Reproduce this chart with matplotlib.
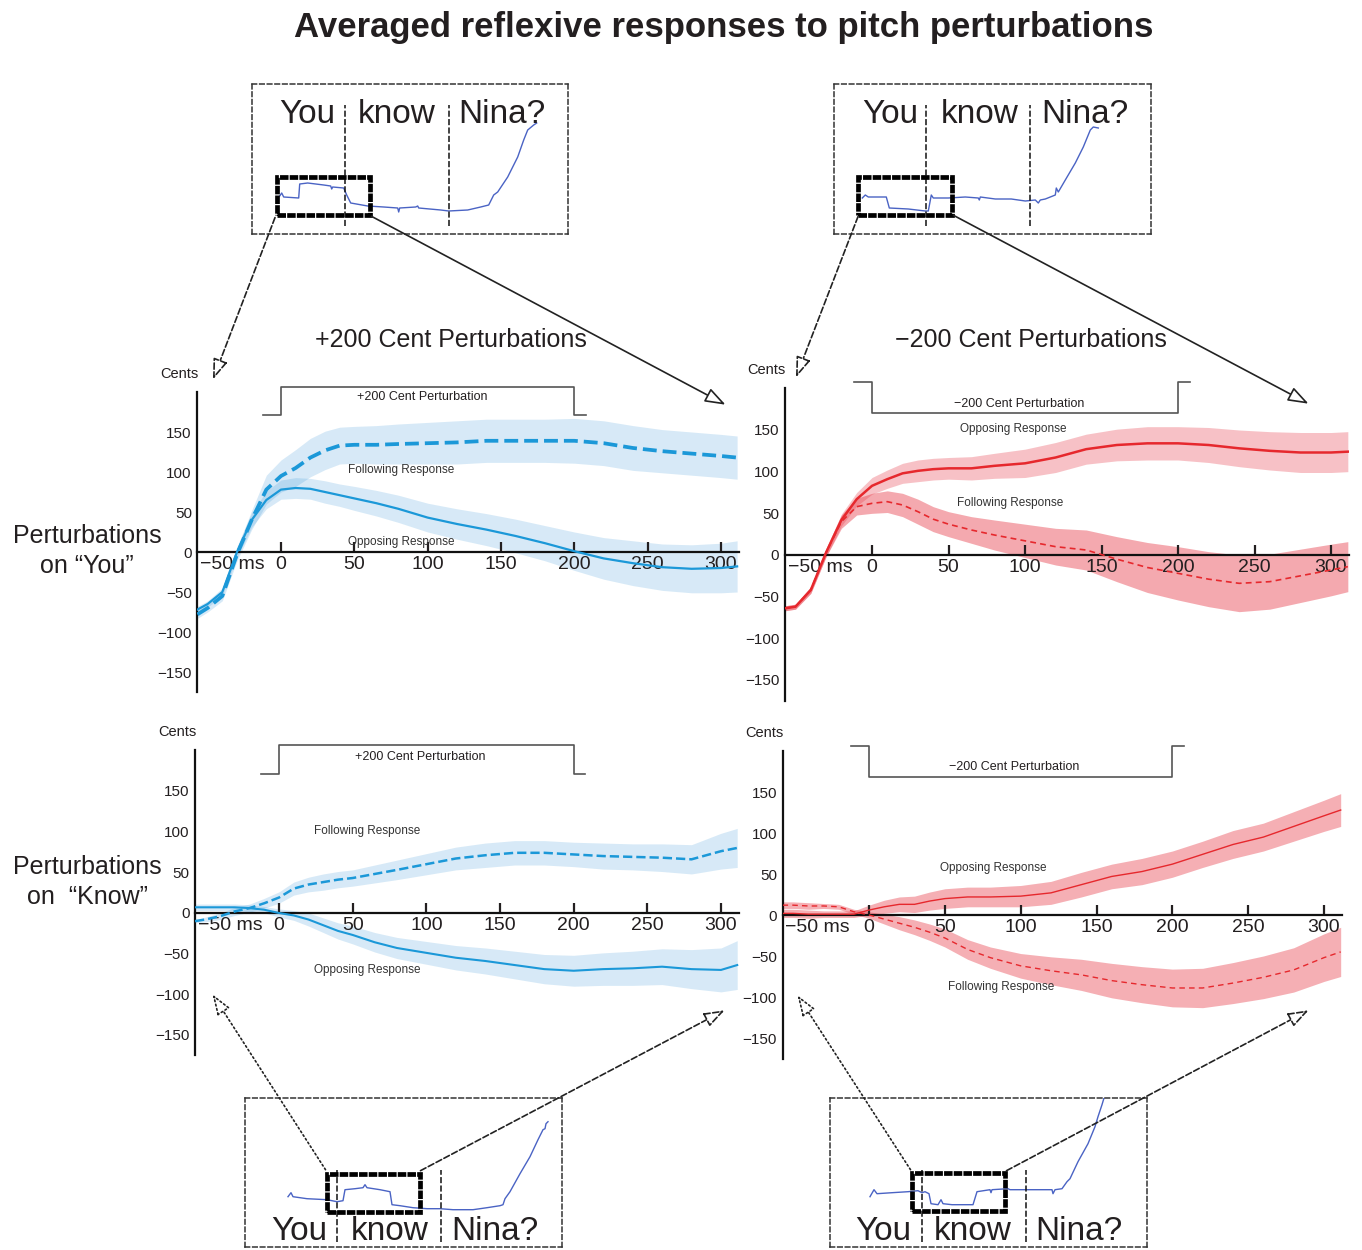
import numpy as np
import matplotlib
matplotlib.use("Agg")
import matplotlib.pyplot as plt
from matplotlib.patches import Rectangle, FancyArrowPatch

plt.rcParams["font.family"] = ["Liberation Sans", "DejaVu Sans"]
NARROW = ["Liberation Sans Narrow", "Liberation Sans", "DejaVu Sans"]
INK = "#231f20"

# time from perturbation onset (ms)
t = np.array([-57, -50, -40, -30, -20, -10, 0, 10, 20, 30, 40, 50, 65, 80,
              100, 120, 140, 160, 180, 200, 220, 240, 260, 280, 300, 311])

# +200 cents on "You"
up_you_follow = [-78, -70, -55, -3, 40, 78, 95, 105, 118, 127, 133, 134, 134, 135,
                 136, 137, 139, 139, 139, 139, 136, 130, 126, 123, 120, 118]
up_you_follow_sem = [5, 5, 6, 8, 12, 18, 20, 23, 24, 24, 23, 23, 24, 25,
                     26, 27, 27, 27, 27, 28, 28, 28, 27, 27, 27, 27]
up_you_oppose = [-72, -65, -50, 0, 40, 65, 78, 80, 79, 75, 71, 67, 61, 54,
                 43, 35, 28, 20, 11, 1, -8, -14, -19, -21, -20, -18]
up_you_oppose_sem = [4, 4, 5, 7, 9, 11, 12, 13, 13, 14, 14, 15, 16, 17,
                     18, 19, 20, 21, 22, 24, 26, 28, 29, 30, 31, 32]

# -200 cents on "You"
dn_you_oppose = [-64, -62, -42, 3, 42, 67, 83, 91, 98, 101, 103, 104, 104, 107,
                 110, 117, 127, 132, 134, 134, 132, 128, 125, 123, 123, 124]
dn_you_oppose_sem = [3, 3, 4, 5, 7, 8, 10, 11, 12, 13, 13, 13, 14, 15,
                     17, 18, 18, 19, 20, 20, 21, 22, 23, 24, 24, 24]
dn_you_follow = [-64, -62, -42, 3, 40, 58, 62, 64, 60, 52, 43, 37, 30, 24,
                 17, 10, 6, -5, -15, -22, -29, -34, -32, -25, -18, -14]
dn_you_follow_sem = [3, 3, 4, 5, 8, 10, 12, 13, 14, 15, 15, 15, 16, 18,
                     20, 22, 24, 27, 30, 32, 33, 34, 33, 32, 31, 30]

# +200 cents on "Know"
up_know_follow = [-10, -8, -4, 2, 6, 12, 19, 30, 35, 38, 41, 43, 48, 53,
                  60, 67, 71, 74, 74, 72, 70, 69, 68, 66, 76, 80]
up_know_follow_sem = [2, 3, 4, 5, 5, 6, 7, 8, 9, 10, 10, 10, 11, 12,
                      13, 14, 15, 15, 15, 15, 16, 16, 17, 18, 22, 24]
up_know_oppose = [7, 7, 7, 7, 6, 4, 0, -3, -8, -15, -22, -27, -36, -43,
                  -49, -55, -59, -64, -69, -71, -69, -68, -66, -69, -70, -64]
up_know_oppose_sem = [4, 4, 4, 4, 4, 4, 5, 6, 8, 9, 10, 11, 12, 13,
                      14, 15, 16, 17, 18, 19, 20, 21, 22, 24, 27, 30]

# -200 cents on "Know"
dn_know_oppose = [2, 2, 1, 1, 1, 1, 6, 10, 13, 13, 17, 20, 22, 22,
                  23, 27, 37, 47, 53, 62, 74, 86, 95, 108, 121, 128]
dn_know_oppose_sem = [5, 5, 5, 4, 4, 4, 6, 8, 9, 10, 11, 12, 12, 12,
                      13, 14, 15, 15, 16, 16, 16, 17, 17, 18, 19, 20]
dn_know_follow = [12, 12, 11, 11, 10, 4, 0, -5, -10, -15, -21, -28, -42, -52,
                  -62, -68, -73, -80, -85, -89, -89, -83, -76, -67, -52, -45]
dn_know_follow_sem = [4, 4, 4, 3, 3, 3, 4, 6, 8, 9, 10, 11, 12, 13,
                      15, 17, 19, 21, 22, 23, 24, 25, 26, 27, 29, 30]

pert_onset, pert_offset = 0, 200
xticks = [0, 50, 100, 150, 200, 250, 300]
yticks = [-150, -100, -50, 0, 50, 100, 150]

# pitch contours of "You know Nina?" (inset units)
tl_x = [28, 30, 32, 47, 48, 56, 72, 79, 80, 81, 92, 95, 99, 116, 132, 146, 147,
        148, 164, 166, 167, 189, 197, 216, 229, 237, 242, 246, 256, 266, 272,
        276, 282, 285]
tl_y = [38, 41, 37, 36, 50, 51, 49, 48, 45, 47, 46, 39, 31, 28, 27, 26, 22,
        26, 27, 28, 26, 24, 23, 24, 27, 29, 39, 42, 57, 77, 94, 104, 109, 111]
tr_x = [28, 31, 34, 52, 55, 74, 91, 94, 97, 99, 114, 131, 144, 145, 146, 161,
        177, 191, 201, 204, 206, 211, 221, 222, 224, 231, 241, 249, 256, 259, 264]
tr_y = [36, 39, 37, 37, 26, 25, 23, 23, 39, 36, 36, 37, 36, 34, 37, 35,
        35, 33, 34, 31, 34, 35, 39, 46, 42, 54, 71, 87, 104, 107, 106]
bl_x = [43, 46, 48, 62, 82, 92, 98, 100, 110, 118, 120, 122, 135, 145, 147, 155,
        168, 182, 195, 208, 228, 242, 255, 258, 260, 265, 275, 285, 293, 298,
        300, 301, 303]
bl_y = [50, 54, 50, 48, 47, 45, 46, 57, 58, 59, 62, 59, 57, 55, 42, 41,
        39, 38, 38, 37, 37, 39, 41, 42, 48, 55, 73, 90, 107, 117, 118, 123, 125]
br_x = [40, 44, 47, 62, 78, 88, 92, 95, 99, 101, 108, 111, 113, 122, 143, 147,
        160, 161, 162, 178, 180, 195, 222, 223, 225, 232, 237, 240, 248, 258,
        265, 268, 272, 275]
br_y = [50, 57, 53, 54, 55, 56, 54, 55, 53, 43, 42, 47, 43, 42, 42, 55,
        57, 54, 57, 58, 57, 57, 57, 53, 57, 58, 65, 68, 85, 103, 120, 130, 142, 152]
words = ["You", "know", "Nina?"]

BLUE = "#1b98d8"
BLUE_BAND = "#2b8fd6"
RED = "#e6282d"
RED_BAND = "#e8414e"

W, H = 1362, 1250
fig = plt.figure(figsize=(W / 100, H / 100), dpi=100)


def fpt(x, y):
    return (x / W, 1 - y / H)


def make_panel(x0, x300, y0, y150, xlim=(-57, 312), ylim=(-178, 215)):
    sx = (x300 - x0) / 300
    sy = (y0 - y150) / 150
    left, right = x0 + xlim[0] * sx, x0 + xlim[1] * sx
    top, bottom = y0 - ylim[1] * sy, y0 - ylim[0] * sy
    ax = fig.add_axes([left / W, 1 - bottom / H, (right - left) / W, (bottom - top) / H])
    ax.set_xlim(xlim)
    ax.set_ylim(ylim)
    ax.patch.set_alpha(0)
    for s in ("top", "right"):
        ax.spines[s].set_visible(False)
    ax.spines["left"].set_bounds(-175, 200)
    ax.spines["bottom"].set_position(("data", 0))
    for s in ("left", "bottom"):
        ax.spines[s].set_linewidth(1.6)
        ax.spines[s].set_color("#111111")
    ax.set_xticks(xticks)
    ax.set_xticklabels([str(v) for v in xticks])
    ax.set_yticks(yticks)
    ax.tick_params(axis="x", direction="in", length=7, width=1.6, pad=3,
                   labelsize=14, colors=INK)
    ax.tick_params(axis="y", length=0, pad=4, labelsize=11, colors=INK)
    for lab in ax.get_yticklabels():
        lab.set_family(NARROW)
    ax.annotate("\u221250 ms", xy=(xlim[0], 0), xytext=(2, -3),
                textcoords="offset points", ha="left", va="top",
                fontsize=14, color=INK)
    ax.annotate("Cents", xy=(0, 200), xycoords=("axes fraction", "data"),
                xytext=(-13, 8), textcoords="offset points", ha="center",
                va="bottom", fontsize=10.5, family=NARROW, color=INK)
    return ax


def draw_response(ax, mean, sem, color, band, alpha, lw, ls):
    m = np.asarray(mean, float)
    s = np.asarray(sem, float)
    ax.fill_between(t, m - s, m + s, color=band, alpha=alpha, lw=0, zorder=1)
    ax.plot(t, m, color=color, lw=lw, ls=ls, zorder=3)


def draw_step(ax, base, level, text, text_y):
    xs = [pert_onset - 12, pert_onset, pert_onset, pert_offset, pert_offset, pert_offset + 8]
    ys = [base, base, level, level, base, base]
    ax.plot(xs, ys, color="#555555", lw=1.2, clip_on=False, zorder=2)
    ax.text((pert_onset + pert_offset) / 2 - 4, text_y, text, ha="center", va="center",
            fontsize=9, family=NARROW, color=INK)


def label(ax, x, y, s):
    ax.text(x, y, s, ha="center", va="center", fontsize=8.5, color="#333333")


# +200 on "You"
axA = make_panel(281, 721, 552, 432)
draw_response(axA, up_you_oppose, up_you_oppose_sem, BLUE, BLUE_BAND, 0.19, 1.6, "-")
draw_response(axA, up_you_follow, up_you_follow_sem, BLUE, BLUE_BAND, 0.19, 2.7, "--")
draw_step(axA, 171, 206, "+200 Cent Perturbation", 194)
label(axA, 82, 103, "Following Response")
label(axA, 82, 13, "Opposing Response")

# -200 on "You"
axB = make_panel(872, 1331, 555, 430)
draw_response(axB, dn_you_oppose, dn_you_oppose_sem, RED, RED_BAND, 0.32, 1.8, "-")
draw_response(axB, dn_you_follow, dn_you_follow_sem, RED, RED_BAND, 0.45, 1.2, (0, (3.5, 2.5)))
draw_step(axB, 207, 170, "\u2212200 Cent Perturbation", 181)
label(axB, 92, 151, "Opposing Response")
label(axB, 90, 62, "Following Response")

# +200 on "Know"
axC = make_panel(279, 721, 913, 791)
draw_response(axC, up_know_oppose, up_know_oppose_sem, BLUE, BLUE_BAND, 0.19, 1.5, "-")
draw_response(axC, up_know_follow, up_know_follow_sem, BLUE, BLUE_BAND, 0.19, 1.8, "--")
draw_step(axC, 171, 206, "+200 Cent Perturbation", 192)
label(axC, 60, 101, "Following Response")
label(axC, 60, -70, "Opposing Response")

# -200 on "Know"
axD = make_panel(869, 1324, 915, 792)
draw_response(axD, dn_know_oppose, dn_know_oppose_sem, RED, RED_BAND, 0.42, 1.0, "-")
draw_response(axD, dn_know_follow, dn_know_follow_sem, RED, RED_BAND, 0.42, 1.0, (0, (4, 3)))
draw_step(axD, 206, 168, "\u2212200 Cent Perturbation", 181)
label(axD, 82, 57, "Opposing Response")
label(axD, 87, -88, "Following Response")


def make_inset(box, cx, cy, bounds, window, word_x, text_base, line_span):
    x0, y0, x1, y1 = box
    ax = fig.add_axes([x0 / W, 1 - y1 / H, (x1 - x0) / W, (y1 - y0) / H])
    ax.set_xlim(0, x1 - x0)
    ax.set_ylim(0, y1 - y0)
    ax.set_xticks([])
    ax.set_yticks([])
    ax.patch.set_alpha(0)
    for sp in ax.spines.values():
        sp.set_linestyle((0, (3, 2)))
        sp.set_linewidth(1.1)
        sp.set_color("#333333")
    ax.plot(cx, cy, color="#4a63c4", lw=1.0, zorder=2)
    for b in bounds:
        ax.plot([b, b], line_span, color="#111111", lw=1.1, ls=(0, (4, 1.5)), zorder=2)
    wx0, wy0, wx1, wy1 = window
    ax.add_patch(Rectangle((wx0, wy0), wx1 - wx0, wy1 - wy0, fill=False,
                           lw=3.4, ec="black", ls=(0, (1.8, 0.25)), zorder=3))
    for w, xw in zip(words, word_x):
        ax.text(xw, text_base, w, ha="center", va="baseline", fontsize=24, color=INK)
    return ax


make_inset((251.7, 84, 567.7, 234), tl_x, tl_y, [93, 197], (25, 19, 118, 57),
           [56, 145, 250], 111, [8, 129])
make_inset((834.3, 84, 1151, 234), tr_x, tr_y, [92, 196], (24, 19, 118, 57),
           [56, 145, 251], 111, [8, 129])
make_inset((245, 1098.3, 561.7, 1246.7), bl_x, bl_y, [92, 196], (82, 35, 175, 73),
           [54, 145, 250], 7, [5, 77])
make_inset((830, 1098.3, 1146.7, 1246.7), br_x, br_y, [92, 196], (82, 36, 175, 74),
           [53, 143, 249], 7, [5, 77])

# zoom arrows from the inset windows to the panels
arrows = [
    ((276, 215), (212, 382), "--"),
    ((369, 215), (728, 406), "-"),
    ((859, 214), (795, 380), "--"),
    ((951, 214), (1311, 405), "-"),
    ((327, 1172), (211, 992), ":"),
    ((418, 1172), (727, 1009), "--"),
    ((912, 1172), (796, 993), ":"),
    ((1004, 1172), (1311, 1009), "--"),
]
for tail, head, style in arrows:
    fig.add_artist(FancyArrowPatch(fpt(*tail), fpt(*head), transform=fig.transFigure,
                                   arrowstyle="-|>,head_length=0.7,head_width=0.25",
                                   mutation_scale=18, fc="white", ec="#222222",
                                   lw=1.2, ls=style))

fig.text(*fpt(724, 27), "Averaged reflexive responses to pitch perturbations",
         ha="center", va="center", fontsize=25, fontweight="bold", color=INK)
fig.text(*fpt(451, 340), "+200 Cent Perturbations", ha="center", va="center",
         fontsize=18, color=INK)
fig.text(*fpt(1031, 340), "\u2212200 Cent Perturbations", ha="center", va="center",
         fontsize=18, color=INK)
fig.text(*fpt(87, 551), "Perturbations\non \u201cYou\u201d", ha="center", va="center",
         fontsize=18, linespacing=1.3, color=INK)
fig.text(*fpt(87, 882), "Perturbations\non  \u201cKnow\u201d", ha="center", va="center",
         fontsize=18, linespacing=1.3, color=INK)

fig.savefig("out.png", dpi=100, facecolor="white")
